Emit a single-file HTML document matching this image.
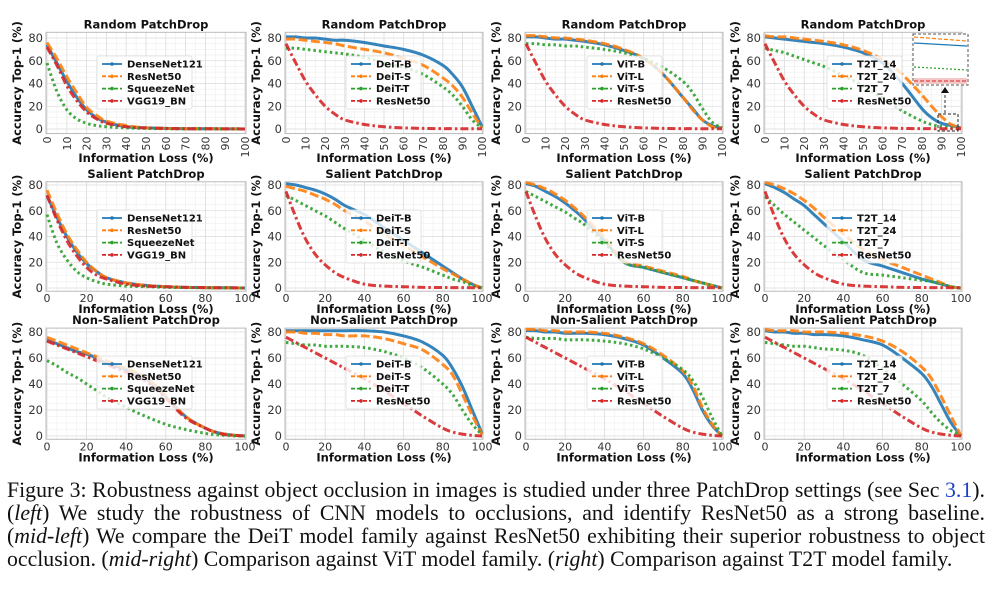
<!DOCTYPE html>
<html><head><meta charset="utf-8">
<style>
html,body{margin:0;padding:0;background:#fff;}
body{width:990px;height:590px;overflow:hidden;position:relative;}
#cap{position:absolute;left:7px;top:479px;width:978px;font-family:"Liberation Serif",serif;font-size:21.8px;line-height:23px;text-align:justify;text-align-last:justify;color:#111;}
#cap .last{text-align-last:left;}
a.ref{color:#1a3fc4;text-decoration:none;}
</style></head>
<body>
<svg id="fig" width="990" height="475" style="position:absolute;left:0;top:0" font-family="DejaVu Sans, Liberation Sans, sans-serif"></svg>
<div id="cap">
<div>Figure 3: Robustness against object occlusion in images is studied under three PatchDrop settings (see Sec&nbsp;<a class="ref">3.1</a>).</div>
<div>(<i>left</i>) We study the robustness of CNN models to occlusions, and identify ResNet50 as a strong baseline.</div>
<div>(<i>mid-left</i>) We compare the DeiT model family against ResNet50 exhibiting their superior robustness to object</div>
<div class="last">occlusion. (<i>mid-right</i>) Comparison against ViT model family. (<i>right</i>) Comparison against T2T model family.</div>
</div>
<script>
const xs = [0,5,10,15,20,25,30,40,50,60,70,80,85,90,95,100];
const rowTitles = ["Random PatchDrop","Salient PatchDrop","Non-Salient PatchDrop"];
const colNames = [["DenseNet121","ResNet50","SqueezeNet","VGG19_BN"],["DeiT-B","DeiT-S","DeiT-T","ResNet50"],["ViT-B","ViT-L","ViT-S","ResNet50"],["T2T_14","T2T_24","T2T_7","ResNet50"]];
const xTicksRow1 = [0,10,20,30,40,50,60,70,80,90,100];
const xTicksRow23 = [0,20,40,60,80,100];
const yTicks = [0,20,40,60,80];
const rn50Random = [75,58,42,30,20,13,8,4,2,1,0.5,0.3,0.3,0.2,0.2,0.2];
const rn50Salient = [75,55,38,26,18,12,8,3,1.5,1,0.5,0.4,0.3,0.3,0.2,0.2];
const rn50NonSal = [76,72,68,64,60,56,52,44,35,25,15,6,3,1.5,0.5,0];
// Row 1: Random
const r1c1a=[74,58,42,28,17,10,6,2,1,0.5,0.3,0.2,0.2,0.1,0.1,0];
const r1c1b=[76,62,46,32,19,12,7,3,1,0.5,0.3,0.2,0.2,0.1,0.1,0];
const r1c1c=[58,33,17,9,5,3,2,1,0.5,0.3,0.2,0.2,0.1,0.1,0.1,0];
const r1c1d=[72,56,38,25,15,9,5,2,1,0.5,0.3,0.2,0.2,0.1,0.1,0];
const r1c2a=[81,81,80,80,79,78,78,76,73,70,65,56,48,37,20,2];
const r1c2b=[79,79,78,77,76,75,73,70,67,62,56,45,38,28,14,1];
const r1c2c=[71,71,70,69,68,67,66,63,58,54,48,37,30,20,8,1];
const r1c3a=[81,81,80,79,79,78,77,74,69,62,48,28,18,8,3,1];
const r1c3b=[82,82,81,80,80,79,78,75,70,62,48,28,17,8,2,1];
const r1c3c=[75,75,74,74,73,73,72,70,67,62,54,42,32,18,6,1];
const r1c4a=[81,80,79,78,77,76,75,72,67,58,40,18,10,5,3,1];
const r1c4b=[82,81,81,80,79,78,77,74,69,61,48,30,20,11,4,1];
const r1c4c=[71,69,67,64,61,58,55,47,38,27,16,7,4,2,1,0];
// Row 2: Salient
const r2c1a=[72,55,40,28,19,13,8,4,2,1,0.5,0.3,0.2,0.2,0.1,0];
const r2c1b=[76,58,42,30,20,13,8,4,2,1,0.5,0.3,0.2,0.2,0.1,0];
const r2c1c=[57,35,22,13,8,5,3,1.5,1,0.5,0.3,0.2,0.2,0.1,0.1,0];
const r2c1d=[72,53,37,25,16,10,7,3,1.5,1,0.5,0.3,0.2,0.2,0.1,0];
const r2c2a=[81,80,78,76,73,69,64,57,47,37,27,17,12,7,3,0];
const r2c2b=[79,77,75,72,69,65,60,52,42,33,24,15,11,7,3,0];
const r2c2c=[72,68,64,60,56,51,46,37,28,21,16,10,7,5,2,0];
const r2c3a=[81,79,75,71,66,60,53,37,20,16,12,8,6,4,2,0];
const r2c3b=[82,80,77,73,68,62,55,39,21,17,13,9,6,4,2,0];
const r2c3c=[75,71,67,63,59,54,49,35,20,16,12,8,6,4,2,0];
const r2c4a=[81,78,74,69,64,57,50,36,22,17,12,7,5,3,1,0];
const r2c4b=[82,80,77,73,68,62,55,42,30,22,16,10,7,4,1,0];
const r2c4c=[71,64,57,51,45,39,33,22,12,10,8,6,5,3,1,0];
// Row 3: Non-salient
const r3c1a=[74,71,68,65,63,60,56,51,44,30,15,6,3,1.5,0.5,0];
const r3c1b=[76,73,70,67,64,61,58,52,45,31,15,6,3,1.5,0.5,0];
const r3c1c=[58,54,49,45,40,35,30,22,15,9,5,2,1,0.5,0,0];
const r3c1d=[73,70,67,64,61,58,55,49,42,29,14,6,3,1,0.5,0];
const r3c2a=[81,81,81,81,81,81,81,81,80,77,72,62,52,38,20,2];
const r3c2b=[80,80,79,79,78,78,77,77,75,71,66,55,47,32,16,1];
const r3c2c=[72,71,70,70,69,69,69,68,65,60,52,40,32,20,9,1];
const r3c3a=[81,81,80,80,79,79,79,78,75,70,60,48,36,20,8,0];
const r3c3b=[82,82,81,81,80,80,80,79,76,71,62,50,39,22,9,0];
const r3c3c=[76,75,75,75,74,74,74,73,71,67,60,51,43,30,14,0];
const r3c4a=[81,80,80,79,79,78,78,77,74,70,60,48,38,24,10,0];
const r3c4b=[82,81,81,81,80,80,80,79,77,73,65,53,44,30,15,0];
const r3c4c=[72,71,70,69,69,68,67,66,62,52,40,27,18,10,4,0];

const panelSeries = [
 [[r1c1a,r1c1b,r1c1c,r1c1d],[r1c2a,r1c2b,r1c2c,rn50Random],[r1c3a,r1c3b,r1c3c,rn50Random],[r1c4a,r1c4b,r1c4c,rn50Random]],
 [[r2c1a,r2c1b,r2c1c,r2c1d],[r2c2a,r2c2b,r2c2c,rn50Salient],[r2c3a,r2c3b,r2c3c,rn50Salient],[r2c4a,r2c4b,r2c4c,rn50Salient]],
 [[r3c1a,r3c1b,r3c1c,r3c1d],[r3c2a,r3c2b,r3c2c,rn50NonSal],[r3c3a,r3c3b,r3c3c,rn50NonSal],[r3c4a,r3c4b,r3c4c,rn50NonSal]]
];

const NS="http://www.w3.org/2000/svg";
const svg=document.getElementById('fig');
function mk(tag,attrs,parent){const e=document.createElementNS(NS,tag);for(const k in attrs)e.setAttribute(k,attrs[k]);(parent||svg).appendChild(e);return e;}
const colX=[[47,245],[286,482],[526,722],[765,961]];
const rowY=[{y0:129,y80:38,lo:-4,hi:85},{y0:288,y80:185,lo:-2.5,hi:82.5},{y0:436,y80:332,lo:-2.5,hi:83}];
const colors=["#1f77b4","#ff7f0e","#2ca02c","#d62728"];
const dashes=["none","9,3.5","2.5,3","8,3,2.5,3"];
const widths=[3,3,3,3];

function smoothPath(pts){let d="M"+pts[0][0].toFixed(1)+","+pts[0][1].toFixed(1);
 for(let i=0;i<pts.length-1;i++){const p0=pts[i-1]||pts[i],p1=pts[i],p2=pts[i+1],p3=pts[i+2]||p2;
  const c1=[p1[0]+(p2[0]-p0[0])/6,p1[1]+(p2[1]-p0[1])/6],c2=[p2[0]-(p3[0]-p1[0])/6,p2[1]-(p3[1]-p1[1])/6];
  d+=" C"+c1[0].toFixed(1)+","+c1[1].toFixed(1)+" "+c2[0].toFixed(1)+","+c2[1].toFixed(1)+" "+p2[0].toFixed(1)+","+p2[1].toFixed(1);}
 return d;}

for(let r=0;r<3;r++){for(let c=0;c<4;c++){
 const [xa,xb]=colX[c]; const R=rowY[r];
 const sx=v=>xa+(xb-xa)*v/100; const sy=v=>R.y0-(R.y0-R.y80)*v/80;
 const g=mk('g',{});
 
 
 const top=sy(R.hi),bot=sy(R.lo);
 for(let v=0;v<=100;v+=5){mk('line',{x1:sx(v),x2:sx(v),y1:top,y2:bot,stroke:"#eeeeee","stroke-width":0.6},g);}
 for(let v=0;v<=R.hi;v+=5){mk('line',{x1:xa-1,x2:xb+1,y1:sy(v),y2:sy(v),stroke:"#eeeeee","stroke-width":0.6},g);}
 const xt=r===0?xTicksRow1:xTicksRow23;
 for(const v of xt){mk('line',{x1:sx(v),x2:sx(v),y1:top,y2:bot,stroke:"#dddddd","stroke-width":0.8},g);}
 for(const v of yTicks){mk('line',{x1:xa-1,x2:xb+1,y1:sy(v),y2:sy(v),stroke:"#dddddd","stroke-width":0.8},g);}
 const frame=mk('rect',{x:xa-1,y:top,width:xb-xa+2,height:bot-top,fill:"none",stroke:"#bbbbbb","stroke-width":1},g);
 
 
 for(const v of yTicks){const t=mk('text',{x:xa-4,y:sy(v)+4,"font-size":11.5,fill:"#333","text-anchor":"end"},g);t.textContent=v;
  
  }
 for(const v of xt){let t;
  if(r===0){t=mk('text',{transform:`translate(${sx(v)+4},${bot+3}) rotate(-90)`,"font-size":11,fill:"#333","text-anchor":"end"},g);}
  else{t=mk('text',{x:sx(v),y:bot+11,"font-size":11,fill:"#333","text-anchor":"middle"},g);}
  t.textContent=v;
  
  }
 const ti=mk('text',{x:(xa+xb)/2,y:top-4,"font-size":11.5,"font-weight":"bold",fill:"#111","text-anchor":"middle"},g);ti.textContent=rowTitles[r];
 
 
 const xl=mk('text',{x:(xa+xb)/2,y:r===0?162:bot+22,"font-size":11.5,"font-weight":"bold",fill:"#111","text-anchor":"middle"},g);xl.textContent="Information Loss (%)";
 
 
 const yl=mk('text',{transform:`translate(${xa-26},${(top+bot)/2}) rotate(-90)`,"font-size":11.5,"font-weight":"bold",fill:"#111","text-anchor":"middle"},g);yl.textContent="Accuracy Top-1 (%)";
 
 
 const ser=panelSeries[r][c];
 for(let s=0;s<4;s++){
  const pts=xs.map((x,i)=>[sx(x),sy(ser[s][i])]);
  const p=mk('path',{d:smoothPath(pts),fill:"none",stroke:colors[s],"stroke-width":widths[s],"stroke-dasharray":dashes[s],"stroke-opacity":0.9},g);
  
  
 }
 const lx=[97,346,587,827][c]; const ly=[56,210,356][r];
 const lg=mk('g',{},g);
 
 
 mk('rect',{x:lx,y:ly,width:c===0?95:75,height:53,rx:2,fill:"#fff","fill-opacity":0.8,stroke:"#dddddd","stroke-width":0.8},lg);
 for(let s=0;s<4;s++){const yy=ly+8+s*12.3;
  const en=mk('g',{},lg);
  
  
  mk('line',{x1:lx+5,x2:lx+25,y1:yy,y2:yy,stroke:colors[s],"stroke-width":1.8,"stroke-dasharray":dashes[s]==="none"?"none":"4,2"},en);
  mk('circle',{cx:lx+15,cy:yy,r:1.8,fill:colors[s]},en);
  const t=mk('text',{x:lx+30,y:yy+3.5,"font-size":10,"font-weight":"bold",fill:"#111"},en);t.textContent=colNames[c][s];}
 if(r===0&&c===3){
  const ig=mk('g',{},g);
  
  
  mk('rect',{x:913,y:34,width:55,height:51,fill:"#fff",stroke:"#555","stroke-width":1,"stroke-dasharray":"3,2"},ig);
  mk('line',{x1:914,x2:967,y1:37,y2:41,stroke:colors[1],"stroke-width":1.2,"stroke-dasharray":"4,2"},ig);
  mk('line',{x1:914,x2:967,y1:43,y2:46,stroke:colors[0],"stroke-width":1.2},ig);
  mk('line',{x1:914,x2:967,y1:67,y2:70,stroke:colors[2],"stroke-width":1.2,"stroke-dasharray":"2,2"},ig);
  mk('rect',{x:914,y:78,width:53,height:6,fill:"#f4c7c7"},ig);
  mk('line',{x1:914,x2:967,y1:81,y2:81,stroke:colors[3],"stroke-width":1,"stroke-dasharray":"4,2"},ig);
  mk('rect',{x:938,y:114,width:20,height:17,fill:"none",stroke:"#222","stroke-width":1,"stroke-dasharray":"3,2"},ig);
  mk('line',{x1:945,x2:945,y1:113,y2:92,stroke:"#333","stroke-width":1,"stroke-dasharray":"3,2"},ig);
  mk('path',{d:"M941,93 L945,87 L949,93 Z",fill:"#111"},ig);
 }
}}
</script>
</body></html>
